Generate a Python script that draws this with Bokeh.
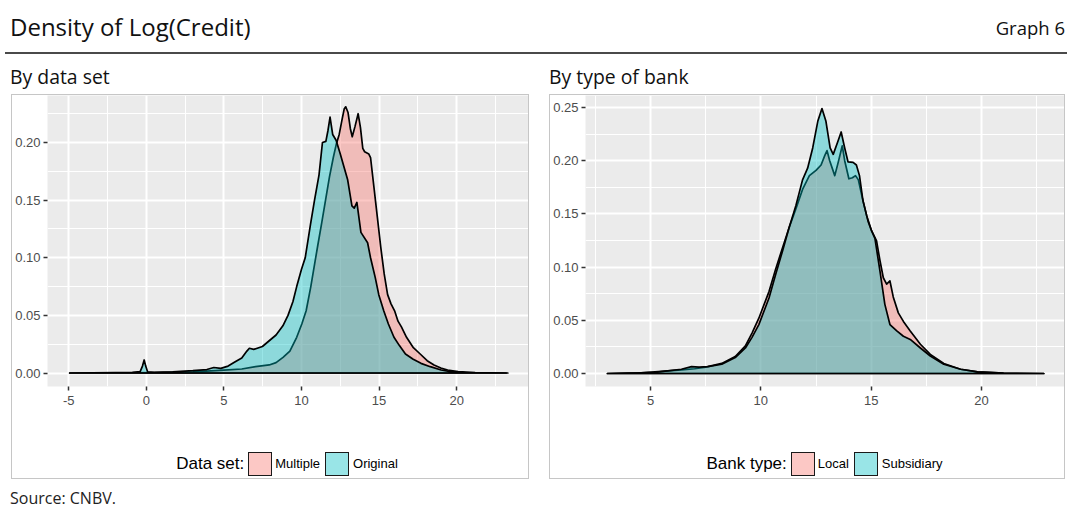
from bokeh.plotting import figure
from bokeh.layouts import column, row
from bokeh.models import Div, Spacer, FixedTicker, Range1d, PrintfTickFormatter
from bokeh.embed import file_html
from bokeh.resources import INLINE

# ---------------- data ----------------
# Left panel: By data set
original_x = [-4.94, -2.0, -0.9, -0.4, -0.25, -0.14, -0.04, 0.08, 0.5, 1.7, 3.0, 3.9, 4.35, 4.8,
              5.27, 5.7, 6.15, 6.48, 6.64, 6.92, 7.48, 7.92, 8.36, 8.8, 9.13, 9.45, 9.69, 10.0,
              10.24, 10.58, 10.84, 11.13, 11.35, 11.57, 11.7, 11.84, 12.01, 12.23, 12.5, 12.97,
              13.25, 13.4, 13.57, 13.83, 14.26, 14.45, 14.75, 14.98, 15.3, 15.6, 15.96, 16.3,
              16.7, 17.2, 17.7, 18.3, 19.0, 19.6, 20.5, 23.3]
original_y = [0.0, 0.0003, 0.0005, 0.0012, 0.006, 0.0113, 0.006, 0.001, 0.0005, 0.001, 0.002, 0.003,
              0.0048, 0.004, 0.006, 0.0095, 0.013, 0.019, 0.0215, 0.0205, 0.023, 0.028, 0.033, 0.041,
              0.05, 0.062, 0.075, 0.09, 0.10, 0.129, 0.15, 0.172, 0.20, 0.201, 0.21, 0.222, 0.207,
              0.202, 0.19, 0.168, 0.145, 0.143, 0.148, 0.122, 0.113, 0.10, 0.083, 0.068, 0.054,
              0.0425, 0.031, 0.024, 0.0165, 0.012, 0.0084, 0.0055, 0.0026, 0.0012, 0.0003, 0.0]

multiple_x = [-4.94, -1.0, 0.5, 3.0, 5.0, 6.15, 7.04, 7.92, 8.36, 8.81, 9.25, 9.69, 10.02, 10.3,
              10.6, 10.85, 11.04, 11.3, 11.55, 11.8, 12.05, 12.25, 12.43, 12.6, 12.75, 12.85, 13.0,
              13.15, 13.27, 13.45, 13.65, 13.8, 13.95, 14.07, 14.34, 14.45, 14.67, 14.89, 15.11,
              15.33, 15.55, 15.77, 16.0, 16.22, 16.44, 16.77, 17.21, 17.65, 18.1, 18.54, 18.98,
              19.42, 20.09, 21.19, 23.19]
multiple_y = [0.0, 0.0002, 0.0004, 0.001, 0.0025, 0.0035, 0.0055, 0.007, 0.009, 0.0136, 0.019,
              0.031, 0.0425, 0.054, 0.075, 0.095, 0.11, 0.13, 0.15, 0.17, 0.187, 0.199, 0.207,
              0.219, 0.229, 0.231, 0.226, 0.212, 0.205, 0.214, 0.225, 0.213, 0.195, 0.192, 0.19,
              0.187, 0.161, 0.135, 0.109, 0.086, 0.068, 0.06, 0.054, 0.045, 0.04, 0.031, 0.022,
              0.0165, 0.0107, 0.007, 0.0043, 0.0026, 0.0012, 0.0003, 0.0]

# Right panel: By type of bank
local_x = [3.05, 4.0, 4.57, 5.2, 5.79, 6.4, 7.0, 7.5, 8.23, 8.84, 9.3, 9.6, 9.91, 10.37, 10.67,
           10.98, 11.28, 11.59, 11.89, 12.2, 12.5, 12.73, 12.9, 13.0, 13.12, 13.35, 13.5, 13.69,
           13.8, 13.99, 14.15, 14.29, 14.42, 14.6, 14.8, 15.02, 15.24, 15.4, 15.55, 15.7, 15.85,
           16.0, 16.23, 16.46, 16.77, 17.23, 17.68, 18.29, 19.05, 19.82, 21.0, 22.82]
local_y = [0.0, 0.0003, 0.0006, 0.0015, 0.0025, 0.0035, 0.0045, 0.006, 0.0095, 0.016, 0.026,
           0.038, 0.052, 0.077, 0.098, 0.118, 0.137, 0.155, 0.173, 0.186, 0.191, 0.196, 0.205,
           0.2095, 0.2, 0.186, 0.198, 0.214, 0.2, 0.183, 0.184, 0.186, 0.182, 0.165, 0.148, 0.134,
           0.125, 0.106, 0.09, 0.084, 0.087, 0.072, 0.057, 0.049, 0.04, 0.0275, 0.018, 0.0094,
           0.004, 0.0016, 0.0003, 0.0]

subsidiary_x = [3.05, 4.0, 4.57, 5.2, 5.79, 6.4, 6.86, 7.2, 7.6, 8.23, 8.84, 9.3, 9.6, 9.91, 10.37,
                10.67, 10.98, 11.28, 11.59, 11.89, 12.12, 12.35, 12.58, 12.77, 12.95, 13.14, 13.28,
                13.49, 13.64, 13.8, 13.95, 14.18, 14.33, 14.47, 14.63, 14.86, 15.02, 15.17, 15.4,
                15.62, 15.85, 16.16, 16.46, 16.77, 17.23, 17.68, 18.29, 19.05, 19.82, 21.0, 22.82]
subsidiary_y = [0.0, 0.0003, 0.0006, 0.0012, 0.0025, 0.004, 0.0065, 0.006, 0.0065, 0.0087, 0.015,
                0.024, 0.034, 0.046, 0.071, 0.093, 0.115, 0.137, 0.158, 0.182, 0.193, 0.212, 0.237,
                0.249, 0.237, 0.212, 0.206, 0.218, 0.227, 0.212, 0.199, 0.1985, 0.196, 0.186, 0.162,
                0.143, 0.134, 0.127, 0.096, 0.065, 0.046, 0.04, 0.035, 0.032, 0.024, 0.0165, 0.0087,
                0.004, 0.0015, 0.0003, 0.0]

left_xticks = [-5, 0, 5, 10, 15, 20]
left_xminor = [-7.5, -2.5, 2.5, 7.5, 12.5, 17.5, 22.5]
left_yticks = [0.0, 0.05, 0.10, 0.15, 0.20]
left_yminor = [0.025, 0.075, 0.125, 0.175, 0.225]
right_xticks = [5, 10, 15, 20]
right_xminor = [2.5, 7.5, 12.5, 17.5, 22.5]
right_yticks = [0.0, 0.05, 0.10, 0.15, 0.20, 0.25]
right_yminor = [0.025, 0.075, 0.125, 0.175, 0.225]

left_names = ["Multiple", "Original"]
right_names = ["Local", "Subsidiary"]

PINK = "#F8766D"
TEAL = "#00BFC4"
ALPHA = 0.4
TXT = "Liberation Sans"
HEAD = "Open Sans"


def make_panel(series, xr, yr, xt, xm, yt, ym, width, left_border):
    p = figure(width=width, height=331, x_range=Range1d(*xr), y_range=Range1d(*yr),
               output_backend="svg", toolbar_location=None,
               min_border_left=left_border, min_border_right=0,
               min_border_top=0, min_border_bottom=40)
    p.background_fill_color = "#EBEBEB"
    p.border_fill_color = "white"
    p.outline_line_color = None
    for xs, ys, col in series:
        p.patch(xs, ys, fill_color=col, fill_alpha=ALPHA, line_color="black",
                line_width=1.7, line_join="round")
    xtick = FixedTicker(ticks=xt, minor_ticks=xm)
    ytick = FixedTicker(ticks=yt, minor_ticks=ym)
    p.xaxis.ticker = xtick
    p.yaxis.ticker = ytick
    p.xgrid.ticker = xtick
    p.ygrid.ticker = ytick
    p.xaxis.formatter = PrintfTickFormatter(format="%d")
    p.yaxis.formatter = PrintfTickFormatter(format="%.2f")
    for g in (p.xgrid, p.ygrid):
        g.grid_line_color = "white"
        g.grid_line_width = 2
        g.minor_grid_line_color = "white"
        g.minor_grid_line_width = 1
    for ax in (p.xaxis, p.yaxis):
        ax.axis_line_color = None
        ax.major_tick_in = 0
        ax.major_tick_out = 4
        ax.major_tick_line_color = "#333333"
        ax.major_tick_line_width = 1.5
        ax.minor_tick_line_color = None
        ax.major_label_text_font = TXT
        ax.major_label_text_font_size = "13px"
        ax.major_label_text_color = "#4D4D4D"
        ax.major_label_standoff = 3
    p.xaxis.major_label_standoff = 5
    return p


def legend_div(title, names, width, frame_left):
    def key(rgba):
        return ('<span style="display:inline-block;width:24px;height:24px;box-sizing:border-box;'
                'border:1.5px solid #1a1a1a;background:%s;"></span>' % rgba)
    html = (
        '<div style="position:relative;width:%dpx;height:52px;">'
        '<div style="position:absolute;left:%dpx;width:%dpx;top:26px;height:24px;display:flex;'
        'justify-content:center;align-items:center;font-family:\'%s\';color:#000;white-space:nowrap;">'
        '<span style="font-size:17px;margin-right:4px;">%s</span>%s'
        '<span style="font-size:13px;margin-left:3px;margin-right:5px;">%s</span>%s'
        '<span style="font-size:13px;margin-left:4px;">%s</span>'
        '</div></div>'
    ) % (width, frame_left, width - frame_left, TXT, title,
         key("rgba(248,118,109,%.2f)" % ALPHA), names[0],
         key("rgba(0,191,196,%.2f)" % ALPHA), names[1])
    return Div(text=html, width=width, height=52, margin=0)


p1 = make_panel([(multiple_x, multiple_y, PINK), (original_x, original_y, TEAL)],
                (-6.37, 24.63), (-0.0117, 0.2408),
                left_xticks, left_xminor, left_yticks, left_yminor, 516, 34)
p2 = make_panel([(local_x, local_y, PINK), (subsidiary_x, subsidiary_y, TEAL)],
                (2.055, 23.76), (-0.0122, 0.2613),
                right_xticks, right_xminor, right_yticks, right_yminor, 514, 35)

box_style = {"outline": "1px solid #C6C6C6"}
left_col = column(p1, legend_div("Data set:", left_names, 516, 34), spacing=0, styles=box_style)
right_col = column(p2, legend_div("Bank type:", right_names, 514, 35), spacing=0, styles=box_style)

header = Div(text=(
    '<div style="position:relative;width:1067px;height:54px;">'
    '<span style="position:absolute;left:10px;top:10px;font-family:\'%s\';font-size:24px;'
    'color:#111;white-space:nowrap;">Density of Log(Credit)</span>'
    '<span style="position:absolute;right:2px;top:15px;font-family:\'%s\';font-size:18.5px;'
    'color:#111;white-space:nowrap;">Graph 6</span>'
    '<div style="position:absolute;left:5px;top:52px;width:1062px;height:2px;background:#4a4a4a;"></div>'
    '</div>') % (HEAD, HEAD), width=1067, height=54, margin=0)

sub_left = Div(text=(
    '<div style="position:relative;width:549px;height:41px;">'
    '<span style="position:absolute;left:10px;top:9px;font-family:\'%s\';font-size:19.4px;'
    'color:#111;white-space:nowrap;">By data set</span></div>') % HEAD,
    width=549, height=41, margin=0)
sub_right = Div(text=(
    '<div style="position:relative;width:518px;height:41px;">'
    '<span style="position:absolute;left:0px;top:9px;font-family:\'%s\';font-size:19.4px;'
    'color:#111;white-space:nowrap;">By type of bank</span></div>') % HEAD,
    width=518, height=41, margin=0)

source = Div(text=(
    '<div style="position:relative;width:1067px;height:38px;">'
    '<span style="position:absolute;left:10px;top:9px;font-family:\'%s\';font-size:16px;'
    'color:#222;white-space:nowrap;">Source: CNBV.</span></div>') % HEAD,
    width=1067, height=38, margin=0)

layout = column(
    header,
    row(sub_left, sub_right, spacing=0),
    row(Spacer(width=12, height=383), left_col, Spacer(width=22, height=383), right_col, spacing=0),
    source,
    spacing=0,
)

open("out.html", "w").write(file_html(layout, INLINE))
